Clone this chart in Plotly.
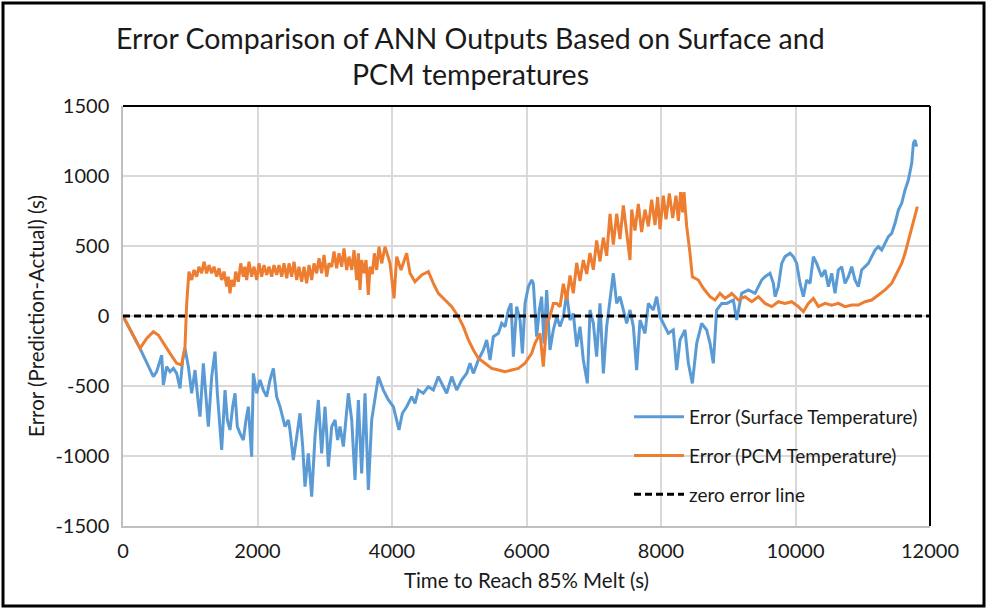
import plotly.graph_objects as go

# ---- data ----
surf_x = [0, 253, 451, 501, 575, 600, 649, 699, 749, 798, 848, 887, 922, 972, 1021, 1071, 1120, 1145, 1195, 1234,
          1269, 1319, 1368, 1403, 1443, 1467, 1517, 1552, 1591, 1631, 1666, 1700, 1740, 1789, 1829, 1864, 1913, 1938,
          1988, 2037, 2087, 2136, 2186, 2236, 2285, 2335, 2409, 2459, 2483, 2533, 2583, 2632, 2672, 2706, 2756, 2806,
          2855, 2905, 2954, 3004, 3029, 3054, 3103, 3153, 3192, 3227, 3277, 3311, 3351, 3401, 3450, 3500, 3549, 3599,
          3648, 3698, 3748, 3797, 3872, 3946, 4020, 4070, 4104, 4154, 4218, 4293, 4342, 4392, 4466, 4540, 4615, 4689,
          4764, 4813, 4888, 4962, 5036, 5111, 5160, 5210, 5284, 5359, 5408, 5458, 5507, 5582, 5631, 5681, 5730, 5770,
          5805, 5854, 5904, 5939, 5978, 6028, 6077, 6102, 6151, 6191, 6225, 6260, 6300, 6349, 6399, 6449, 6498, 6548,
          6597, 6647, 6696, 6746, 6796, 6845, 6905, 6944, 6994, 7043, 7093, 7143, 7192, 7242, 7291, 7341, 7390, 7440,
          7490, 7539, 7589, 7638, 7688, 7762, 7812, 7886, 7936, 7985, 8035, 8109, 8183, 8233, 8283, 8357, 8407, 8466,
          8531, 8605, 8679, 8729, 8778, 8828, 8902, 8977, 9076, 9125, 9200, 9299, 9398, 9448, 9497, 9547, 9621, 9671,
          9696, 9745, 9795, 9844, 9919, 9968, 10018, 10067, 10117, 10166, 10216, 10266, 10315, 10390, 10439, 10489,
          10538, 10588, 10637, 10687, 10737, 10786, 10836, 10885, 10935, 10984, 11034, 11083, 11133, 11183, 11232,
          11282, 11331, 11381, 11430, 11480, 11530, 11579, 11629, 11678, 11728, 11753, 11777, 11802]
surf_err = [0, -231, -433, -398, -279, -493, -362, -398, -374, -410, -517, -314, -231, -362, -552, -386, -624, -719,
            -338, -600, -790, -433, -255, -552, -814, -957, -529, -743, -814, -648, -552, -790, -838, -886, -743, -648,
            -1005, -410, -552, -457, -529, -576, -457, -374, -576, -648, -790, -743, -814, -1029, -862, -695, -933,
            -1219, -981, -1290, -862, -600, -981, -648, -838, -1076, -790, -743, -886, -790, -933, -743, -552, -743,
            -1171, -600, -1124, -552, -1243, -743, -600, -433, -529, -600, -648, -743, -814, -695, -648, -576, -624,
            -529, -552, -505, -529, -433, -505, -552, -433, -529, -457, -410, -338, -410, -314, -243, -171, -314,
            -148, -124, -52, -76, 43, 90, -290, 67, -29, -267, 90, 210, 257, 233, -148, 43, 138, -195, 186, -243,
            -100, -5, -76, -5, 162, -29, 19, -219, -76, -314, -481, 43, -52, -290, 90, -410, -76, 138, 305, 90, 138,
            43, -52, 43, -76, -386, -29, -124, 90, 43, 138, -5, -52, -124, -100, -386, -171, -100, -338, -481, -195,
            -52, -100, -195, -338, 43, 90, 90, 114, -28, 162, 186, 162, 210, 257, 281, 305, 233, 138, 210, 376, 424,
            448, 424, 376, 233, 138, 257, 233, 424, 376, 281, 329, 210, 305, 162, 329, 352, 233, 281, 352, 257, 210,
            329, 352, 376, 424, 471, 495, 471, 519, 567, 590, 662, 757, 805, 900, 971, 1090, 1233, 1257, 1210]

pcm_x = [0, 253, 352, 451, 525, 600, 699, 798, 872, 922, 947,
         981, 1021, 1056, 1095, 1130, 1170, 1205, 1244, 1279, 1319, 1353, 1393, 1428, 1467, 1502, 1542, 1566, 1591,
         1616, 1651, 1675, 1715, 1750, 1789, 1814, 1839, 1874, 1913, 1948, 1988, 2022, 2062, 2097, 2136, 2171, 2211,
         2245, 2285, 2320, 2360, 2394, 2434, 2469, 2508, 2543, 2583, 2617, 2657, 2692, 2731, 2766, 2806, 2840, 2880,
         2915, 2954, 2989, 3029, 3063, 3103, 3138, 3177, 3212, 3252, 3286, 3326, 3361, 3401, 3435, 3475, 3500, 3524,
         3549, 3584, 3614, 3648, 3673, 3708, 3738, 3772, 3807, 3847,
         3896, 3971, 4030, 4070, 4134, 4218, 4268, 4342, 4442, 4541, 4615, 4689, 4789, 4888, 4987, 5061, 5136, 5210,
         5284, 5383, 5483, 5582, 5681, 5780, 5879, 5978, 6077, 6126, 6201, 6250, 6300, 6349, 6399, 6449,
         6498, 6548, 6597, 6647, 6696, 6746, 6795, 6845, 6895, 6944, 6994, 7043, 7093, 7142, 7192, 7242, 7291, 7341,
         7390, 7440, 7489, 7539, 7564, 7613, 7663, 7712, 7762, 7812, 7861, 7911, 7950, 7985, 8035, 8074, 8124, 8174,
         8223, 8258, 8292, 8322, 8342, 8382, 8431, 8466,
         8555, 8630, 8729, 8803, 8877, 8952, 9026, 9051, 9150, 9249, 9349, 9448, 9547, 9646, 9745, 9844, 9943,
         10043, 10117, 10191, 10266, 10340, 10439, 10538, 10637, 10737, 10836, 10935, 11034, 11133, 11232, 11331,
         11430, 11480, 11530, 11579, 11629, 11678, 11728, 11777, 11812]
pcm_err = [0, -231, -160, -112, -136, -195, -267, -338, -350, -219, 90,
           317, 257, 329, 281, 352, 305, 388, 305, 364, 305, 352, 281, 341, 257, 317, 210, 281, 162,
           257, 210, 317, 245, 376, 281, 352, 257, 388, 281, 352, 257, 376, 281, 364, 293, 352, 281,
           364, 293, 364, 281, 376, 269, 376, 281, 388, 257, 352, 245, 352, 233, 364, 257, 376, 305,
           412, 305, 436, 281, 376, 352, 460, 341, 448, 352, 483, 329, 424, 329, 471, 257, 448, 186,
           400, 305, 400, 150, 352, 300, 448, 329, 495, 376,
           495, 376, 126, 424, 329, 448, 305, 245, 293, 317, 233, 162, 114, 67, -5, -76, -171, -243,
           -302, -338, -374, -386, -398, -386, -374, -338, -267, -195, -124, -362, -52, -5, 90, 90,
           66, 230, 114, 290, 162, 380, 250, 400, 300, 450, 330, 540, 390, 560, 430, 730, 510, 730,
           550, 790, 580, 400, 760, 610, 800, 600, 760, 640, 830, 650, 850, 620, 860, 690, 875, 700,
           860, 680, 885, 740, 885, 640, 450, 280,
           257, 198, 138, 114, 162, 126, 150, 162, 114, 138, 102, 138, 90, 67, 102, 90, 102,
           67, 31, 90, 126, 67, 90, 78, 90, 67, 78, 78, 102, 114, 150, 186,
           233, 281, 329, 376, 448, 543, 638, 733, 781]

zero_x = [0, 12000]
zero_err = [0, 0]

x_ticks = [0, 2000, 4000, 6000, 8000, 10000, 12000]
x_tick_text = ["0", "2000", "4000", "6000", "8000", "10000", "12000"]
y_ticks = [-1500, -1000, -500, 0, 500, 1000, 1500]
y_tick_text = ["-1500", "-1000", "-500", "0", "500", "1000", "1500"]

FONT = "Lato"
TXT = "#1a1a1a"
fig = go.Figure()
fig.add_trace(go.Scatter(x=surf_x, y=surf_err, mode="lines", name="Error (Surface Temperature)",
                         line=dict(color="#5b9bd5", width=3), legendgroup="a"))
fig.add_trace(go.Scatter(x=pcm_x, y=pcm_err, mode="lines", name="Error (PCM Temperature)",
                         line=dict(color="#ed7d31", width=3), legendgroup="b"))
fig.add_trace(go.Scatter(x=zero_x, y=zero_err, mode="lines", name="zero error line",
                         line=dict(color="black", width=2.8, dash="7px,4px"), legendgroup="c"))

L, R, T, B = 123, 930, 106, 526
W, H = 986, 609
pw, ph = R - L, B - T

def px(xp):
    return (xp - L) / pw

def py(yp):
    return (B - yp) / ph

fig.update_layout(
    width=W, height=H,
    margin=dict(l=L, r=W - R, t=T, b=H - B, autoexpand=False),
    paper_bgcolor="white", plot_bgcolor="white",
    font=dict(family=FONT, color=TXT, size=20),
    xaxis=dict(range=[0, 12000], tickvals=x_ticks, ticktext=x_tick_text, showgrid=True, gridcolor="#d9d9d9",
               gridwidth=1.5, zeroline=False, showline=True, linecolor="#bfbfbf", linewidth=1.5, ticks="",
               tickfont=dict(size=20, color=TXT), ticklabelstandoff=6,
               title=dict(text="Time to Reach 85% Melt (s)", font=dict(size=20.5, color=TXT), standoff=13)),
    yaxis=dict(range=[-1500, 1500], tickvals=y_ticks, ticktext=y_tick_text, showgrid=True, gridcolor="#d9d9d9",
               gridwidth=1.5, zeroline=False, showline=True, linecolor="#bfbfbf", linewidth=1.5, ticks="",
               tickfont=dict(size=20, color=TXT), ticklabelstandoff=8,
               title=dict(text="Error (Prediction-Actual) (s)", font=dict(size=20.5, color=TXT), standoff=5)),
    legend=dict(x=px(629), y=py(398), xanchor="left", yanchor="top", bgcolor="rgba(0,0,0,0)",
                font=dict(size=19, color=TXT), tracegroupgap=11, itemwidth=50),
    annotations=[
        dict(text="Error Comparison of ANN Outputs Based on Surface and", xref="paper", yref="paper",
             x=px(470), y=py(38), xanchor="center", yanchor="middle", showarrow=False,
             font=dict(family=FONT, size=28.5, color=TXT)),
        dict(text="PCM temperatures", xref="paper", yref="paper",
             x=px(470), y=py(74), xanchor="center", yanchor="middle", showarrow=False,
             font=dict(family=FONT, size=28.5, color=TXT)),
    ],
    shapes=[
        dict(type="line", xref="paper", yref="paper", x0=0, x1=1, y0=1, y1=1, line=dict(color="black", width=2)),
        dict(type="line", xref="paper", yref="paper", x0=1, x1=1, y0=0, y1=1, line=dict(color="black", width=2)),
        dict(type="rect", xref="paper", yref="paper", x0=px(3), x1=px(984), y0=py(606), y1=py(3),
             line=dict(color="black", width=3)),
    ],
)

fig.write_html("out.html")
